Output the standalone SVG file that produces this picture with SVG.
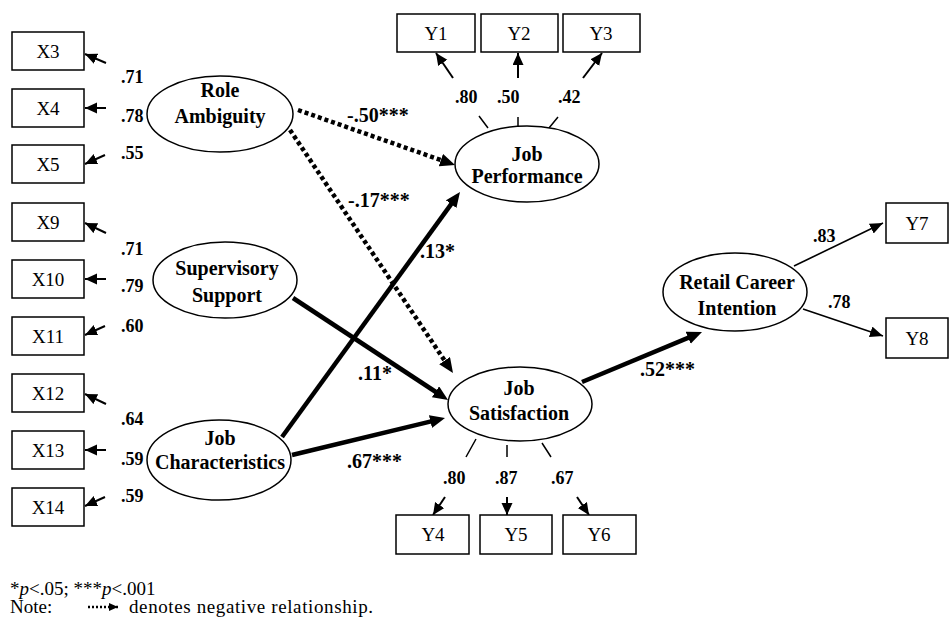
<svg xmlns="http://www.w3.org/2000/svg" width="950" height="618" viewBox="0 0 950 618">
<style>
.box{fill:#fff;stroke:#000;stroke-width:1.5}
.ell{fill:#fff;stroke:#000;stroke-width:1.5}
.bt{font-family:"Liberation Serif","Times New Roman",serif;font-size:19px;text-anchor:middle;fill:#000}
.et{font-family:"Liberation Serif","Times New Roman",serif;font-size:20px;font-weight:bold;text-anchor:middle;fill:#000}
.ld{font-family:"Liberation Serif","Times New Roman",serif;font-size:18px;font-weight:bold;fill:#000}
.pl{font-family:"Liberation Serif","Times New Roman",serif;font-size:20px;font-weight:bold;fill:#000}
.fn{font-family:"Liberation Serif","Times New Roman",serif;font-size:19px;fill:#000}
.thin{stroke:#000;stroke-width:2;fill:none;marker-end:url(#sa)}
.thin2{stroke:#000;stroke-width:1.6;fill:none;marker-end:url(#ma)}
.thick{stroke:#000;stroke-width:4.5;fill:none;marker-end:url(#ba)}
.dot{stroke:#000;stroke-width:4.5;stroke-dasharray:4 3;fill:none;marker-end:url(#ba)}
.tick{stroke:#000;stroke-width:1.5;fill:none}
</style>
<defs>
<marker id="ba" markerUnits="userSpaceOnUse" markerWidth="16" markerHeight="14" refX="5" refY="6.5" orient="auto"><path d="M0,0 L15,6.5 L0,13 z" fill="#000"/></marker>
<marker id="sa" markerUnits="userSpaceOnUse" markerWidth="13" markerHeight="12" refX="12" refY="5.5" orient="auto"><path d="M0,0 L12,5.5 L0,11 z" fill="#000"/></marker>
<marker id="ma" markerUnits="userSpaceOnUse" markerWidth="14" markerHeight="12" refX="13" refY="5.5" orient="auto"><path d="M0,0 L13,5.5 L0,11 z" fill="#000"/></marker>
<marker id="na" markerUnits="userSpaceOnUse" markerWidth="10" markerHeight="10" refX="9" refY="4" orient="auto"><path d="M0,0 L9,4 L0,8 z" fill="#000"/></marker>
</defs>

<g id="connectors">
<path class="dot" d="M298,110 L445.6,161.7"/>
<path class="dot" d="M290,130 L447.4,364.7"/>
<path class="thick" d="M282,437 L454.1,200.1"/>
<path class="thick" d="M293,298 L439.7,394.5"/>
<path class="thick" d="M292,455 L435.3,420.4"/>
<path class="thick" d="M582,382 L692.8,335.8"/>
<path class="thin" d="M106,63 L85,54"/>
<path class="thin" d="M106,108 L85,108"/>
<path class="thin" d="M105,155 L85,164"/>
<path class="thin" d="M106,233 L85,223"/>
<path class="thin" d="M106,279 L85,279"/>
<path class="thin" d="M105,326 L85,335"/>
<path class="thin" d="M106,404 L85,394"/>
<path class="thin" d="M106,450 L85,450"/>
<path class="thin" d="M105,497 L85,506"/>
<path class="thin" d="M453,78 L436,53"/>
<path class="thin" d="M518,78 L518,53"/>
<path class="thin" d="M583,78 L602,53"/>
<path class="tick" d="M479,116 L488,128 M518,117 L518,128 M558,117 L549,128"/>
<path class="thin" d="M445,497 L433,515"/>
<path class="thin" d="M507,497 L507,515"/>
<path class="thin" d="M577,497 L589,515"/>
<path class="tick" d="M476,439 L466,457 M507,445 L507,457 M542,443 L551,457"/>
<path class="thin2" d="M794,266 L883,223"/>
<path class="thin2" d="M803,309 L883,336"/>
</g>

<g id="X3"><rect class="box" x="12" y="32" width="72" height="38"/><text class="bt" x="48" y="58">X3</text></g>
<g id="X4"><rect class="box" x="12" y="89" width="72" height="38"/><text class="bt" x="48" y="115">X4</text></g>
<g id="X5"><rect class="box" x="12" y="145" width="72" height="38"/><text class="bt" x="48" y="171">X5</text></g>
<g id="X9"><rect class="box" x="12" y="203" width="72" height="38"/><text class="bt" x="48" y="229">X9</text></g>
<g id="X10"><rect class="box" x="12" y="260" width="72" height="38"/><text class="bt" x="48" y="286">X10</text></g>
<g id="X11"><rect class="box" x="12" y="317" width="72" height="38"/><text class="bt" x="48" y="343">X11</text></g>
<g id="X12"><rect class="box" x="12" y="374" width="72" height="38"/><text class="bt" x="48" y="400">X12</text></g>
<g id="X13"><rect class="box" x="12" y="431" width="72" height="38"/><text class="bt" x="48" y="457">X13</text></g>
<g id="X14"><rect class="box" x="12" y="488" width="72" height="38"/><text class="bt" x="48" y="514">X14</text></g>

<g id="Y1"><rect class="box" x="397" y="14" width="78" height="38"/><text class="bt" x="436" y="40">Y1</text></g>
<g id="Y2"><rect class="box" x="481" y="14" width="77" height="38"/><text class="bt" x="519" y="40">Y2</text></g>
<g id="Y3"><rect class="box" x="563" y="14" width="77" height="38"/><text class="bt" x="601" y="40">Y3</text></g>
<g id="Y4"><rect class="box" x="396" y="515" width="73" height="39"/><text class="bt" x="433" y="541">Y4</text></g>
<g id="Y5"><rect class="box" x="480" y="515" width="72" height="39"/><text class="bt" x="516" y="541">Y5</text></g>
<g id="Y6"><rect class="box" x="563" y="515" width="73" height="39"/><text class="bt" x="599" y="541">Y6</text></g>
<g id="Y7"><rect class="box" x="886" y="203" width="62" height="40"/><text class="bt" x="917" y="230">Y7</text></g>
<g id="Y8"><rect class="box" x="886" y="318" width="62" height="40"/><text class="bt" x="917" y="345">Y8</text></g>

<g id="RoleAmbiguity"><ellipse class="ell" cx="220" cy="114" rx="73" ry="38"/><text class="et" x="220" y="97">Role</text><text class="et" x="220" y="123">Ambiguity</text></g>
<g id="SupervisorySupport"><ellipse class="ell" cx="225" cy="280" rx="72" ry="38"/><text class="et" x="227" y="275">Supervisory</text><text class="et" x="227" y="302">Support</text></g>
<g id="JobCharacteristics"><ellipse class="ell" cx="219" cy="460" rx="72" ry="40"/><text class="et" x="220" y="445">Job</text><text class="et" x="220" y="469">Characteristics</text></g>
<g id="JobPerformance"><ellipse class="ell" cx="527" cy="164" rx="72" ry="38"/><text class="et" x="527" y="161">Job</text><text class="et" x="527" y="183">Performance</text></g>
<g id="JobSatisfaction"><ellipse class="ell" cx="520" cy="404" rx="72" ry="37"/><text class="et" x="519" y="395">Job</text><text class="et" x="519" y="420">Satisfaction</text></g>
<g id="RetailCareerIntention"><ellipse class="ell" cx="735" cy="292" rx="72" ry="39"/><text class="et" x="737" y="289">Retail Career</text><text class="et" x="737" y="315">Intention</text></g>

<g id="loadings">
<text class="ld" x="121" y="83">.71</text>
<text class="ld" x="121" y="122">.78</text>
<text class="ld" x="121" y="159">.55</text>
<text class="ld" x="121" y="255">.71</text>
<text class="ld" x="121" y="292">.79</text>
<text class="ld" x="121" y="332">.60</text>
<text class="ld" x="121" y="425">.64</text>
<text class="ld" x="121" y="465">.59</text>
<text class="ld" x="121" y="502">.59</text>
<text class="ld" x="455" y="103">.80</text>
<text class="ld" x="497" y="103">.50</text>
<text class="ld" x="558" y="103">.42</text>
<text class="ld" x="443" y="484">.80</text>
<text class="ld" x="495" y="484">.87</text>
<text class="ld" x="551" y="484">.67</text>
<text class="ld" x="813" y="242">.83</text>
<text class="ld" x="828" y="308">.78</text>
</g>

<g id="pathlabels">
<text class="pl" x="347" y="122">-.50***</text>
<text class="pl" x="348" y="207">-.17***</text>
<text class="pl" x="420" y="258">.13*</text>
<text class="pl" x="358" y="380">.11*</text>
<text class="pl" x="347" y="468">.67***</text>
<text class="pl" x="640" y="376">.52***</text>
</g>

<g id="footnote">
<text class="fn" x="10" y="595">*<tspan font-style="italic">p</tspan>&lt;.05; ***<tspan font-style="italic">p</tspan>&lt;.001</text>
<text class="fn" x="10" y="613" font-size="20">Note:</text>
<path d="M88,607 L118,607" stroke="#000" stroke-width="2.5" stroke-dasharray="2 2" fill="none" marker-end="url(#na)"/>
<text class="fn" x="129" y="613" font-size="20" textLength="244">denotes negative relationship.</text>
</g>
</svg>
